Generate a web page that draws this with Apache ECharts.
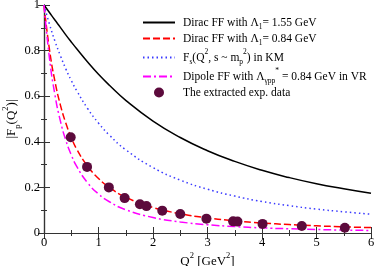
<!DOCTYPE html>
<html><head><meta charset="utf-8">
<script src="https://cdn.jsdelivr.net/npm/echarts@6/dist/echarts.min.js"></script>
<style>html,body{margin:0;padding:0;background:#fff}#c{width:374px;height:266px}</style>
</head><body><div id="c"></div>
<script>
// Q^2 sample points for curves
var q2 = [0, 0.1, 0.2, 0.3, 0.4, 0.5, 0.6, 0.8, 1.0, 1.2, 1.5, 2.0, 2.5, 3.0, 3.5, 4.0, 4.5, 5.0, 5.5, 6.0];
var dirac155 = [1, 0.967, 0.934, 0.902, 0.869, 0.838, 0.808, 0.750, 0.696, 0.648, 0.582, 0.491, 0.419, 0.361, 0.314, 0.275, 0.243, 0.216, 0.194, 0.174];
var dirac084 = [1, 0.805, 0.666, 0.562, 0.482, 0.419, 0.368, 0.293, 0.239, 0.200, 0.157, 0.112, 0.0845, 0.0662, 0.0533, 0.0439, 0.0369, 0.0314, 0.0271, 0.0236];
var fsKM = [1, 0.916, 0.842, 0.778, 0.720, 0.669, 0.624, 0.546, 0.482, 0.429, 0.365, 0.287, 0.232, 0.192, 0.162, 0.138, 0.120, 0.105, 0.093, 0.0825];
var dipoleVR = [1, 0.767, 0.607, 0.492, 0.407, 0.343, 0.292, 0.220, 0.171, 0.137, 0.102, 0.068, 0.0485, 0.0363, 0.0282, 0.0225, 0.0184, 0.0153, 0.0129, 0.0111];
// extracted experimental data
var expQ2 = [0.49, 0.79, 1.19, 1.48, 1.76, 1.88, 2.17, 2.50, 2.98, 3.47, 3.55, 4.01, 4.73, 5.52];
var expF = [0.42, 0.29, 0.20, 0.153, 0.126, 0.118, 0.098, 0.083, 0.063, 0.051, 0.050, 0.040, 0.031, 0.023];
var xTicks = ['0', '1', '2', '3', '4', '5', '6'];
var yTicks = ['0', '0.2', '0.4', '0.6', '0.8', '1'];
var legendNames = ['d155', 'd084', 'fs', 'dip', 'exp'];
var legendLabels = {
  d155: 'Dirac FF with \u039b{sub|1}= 1.55 GeV',
  d084: 'Dirac FF with \u039b{sub|1}= 0.84 GeV',
  fs: 'F{sub|s}(Q{sup|2}, s ~ m{sub|p}{sup|2}) in KM',
  dip: 'Dipole FF with \u039b{sub|\u03b3pp}{sup|*} = 0.84 GeV in VR',
  exp: 'The extracted exp. data'
};

function pairs(xs, ys) { return xs.map(function (x, i) { return [x, ys[i]]; }); }

var serif = '"Liberation Serif", "DejaVu Serif", serif';
var axisColor = '#333';
var chart = echarts.init(document.getElementById('c'), null, {renderer: 'canvas'});
var lineBase = {type: 'line', smooth: true, showSymbol: false, symbol: 'circle'};
chart.setOption({
  animation: false,
  grid: {left: 44, right: 3, top: 5, bottom: 33, outerBoundsMode: 'none', containLabel: false},
  legend: {
    data: legendNames.map(function (n) {
      return n === 'exp' ? {name: n, itemStyle: {opacity: 1}} : {name: n};
    }),
    orient: 'vertical',
    left: 137, top: 11.5,
    itemWidth: 32, itemHeight: 10, itemGap: 1,
    itemStyle: {opacity: 0},
    formatter: function (n) { return legendLabels[n]; },
    textStyle: {
      fontFamily: serif, fontSize: 11.5, color: '#000', lineHeight: 12, padding: [0, 0, 0, 3],
      rich: {
        sub: {fontFamily: serif, fontSize: 7.5, lineHeight: 7, verticalAlign: 'bottom', padding: [0, 0, -3, 0]},
        sup: {fontFamily: serif, fontSize: 7.5, lineHeight: 7, verticalAlign: 'top', padding: [-3, 0, 0, 0]}
      }
    }
  },
  xAxis: [{
    type: 'value', min: 0, max: 6, interval: 1,
    name: 'Q{sup|2} [GeV{sup|2}]', nameLocation: 'middle', nameGap: 22, nameMoveOverlap: false,
    nameTextStyle: {fontFamily: serif, fontSize: 13, color: '#000',
      rich: {sup: {fontFamily: serif, fontSize: 8.5, verticalAlign: 'top', lineHeight: 8, padding: [-4, 0, 0, 0]}}},
    axisLine: {show: true, lineStyle: {color: axisColor, width: 1.2}},
    axisTick: {show: true, inside: true, length: 6, lineStyle: {color: axisColor}},
    minorTick: {show: true, splitNumber: 2, length: 3, lineStyle: {color: axisColor}},
    axisLabel: {fontFamily: serif, fontSize: 12.5, color: '#000', margin: 3,
      formatter: function (v) { return xTicks[Math.round(v)]; }},
    splitLine: {show: false}
  }, {
    type: 'value', min: 0, max: 6, interval: 1, position: 'top',
    axisLine: {show: true, lineStyle: {color: axisColor, width: 1.2}},
    axisTick: {show: true, inside: true, length: 6, lineStyle: {color: axisColor}},
    minorTick: {show: true, splitNumber: 2, length: 3, lineStyle: {color: axisColor}},
    axisLabel: {show: false}, splitLine: {show: false}
  }],
  yAxis: [{
    type: 'value', min: 0, max: 1, interval: 0.2,
    name: '|F{sub|p}(Q{sup|2})|', nameLocation: 'middle', nameGap: 26, nameRotate: 90, nameMoveOverlap: false,
    nameTextStyle: {fontFamily: serif, fontSize: 13, color: '#000',
      rich: {
        sub: {fontFamily: serif, fontSize: 8.5, verticalAlign: 'bottom', lineHeight: 8, padding: [0, 0, -4, 0]},
        sup: {fontFamily: serif, fontSize: 8.5, verticalAlign: 'top', lineHeight: 8, padding: [-4, 0, 0, 0]}
      }},
    axisLine: {show: true, lineStyle: {color: axisColor, width: 1.2}},
    axisTick: {show: true, inside: true, length: 6, lineStyle: {color: axisColor}},
    minorTick: {show: true, splitNumber: 2, length: 3, lineStyle: {color: axisColor}},
    axisLabel: {fontFamily: serif, fontSize: 12.5, color: '#000', margin: 4,
      formatter: function (v) { return yTicks[Math.round(v * 5)]; }},
    splitLine: {show: false}
  }, {
    type: 'value', min: 0, max: 1, interval: 0.2, position: 'right',
    axisLine: {show: true, lineStyle: {color: axisColor, width: 1.2}},
    axisTick: {show: true, inside: true, length: 6, lineStyle: {color: axisColor}},
    minorTick: {show: true, splitNumber: 2, length: 3, lineStyle: {color: axisColor}},
    axisLabel: {show: false}, splitLine: {show: false}
  }],
  series: [
    Object.assign({}, lineBase, {name: 'd155', data: pairs(q2, dirac155), color: '#000',
      lineStyle: {color: '#000', width: 1.5, type: 'solid'}}),
    Object.assign({}, lineBase, {name: 'd084', data: pairs(q2, dirac084), color: '#ff0000',
      lineStyle: {color: '#ff0000', width: 1.5, type: [7, 3]}}),
    Object.assign({}, lineBase, {name: 'fs', data: pairs(q2, fsKM), color: '#3a3aff',
      lineStyle: {color: '#3a3aff', width: 1.5, type: [1.5, 3]}}),
    Object.assign({}, lineBase, {name: 'dip', data: pairs(q2, dipoleVR), color: '#ff00ff',
      lineStyle: {color: '#ff00ff', width: 1.5, type: [8, 3, 2, 3]}}),
    {type: 'scatter', name: 'exp', data: pairs(expQ2, expF), symbol: 'circle', symbolSize: 10,
      itemStyle: {color: '#5c0a3c', opacity: 1}, z: 5}
  ]
});
</script></body></html>
